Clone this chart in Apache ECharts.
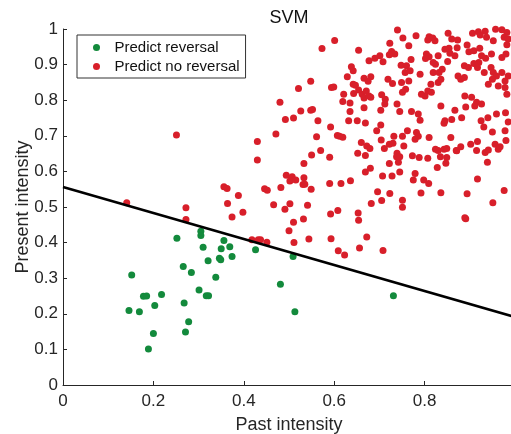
<!DOCTYPE html>
<html>
<head>
<meta charset="utf-8">
<script src="https://cdn.jsdelivr.net/npm/echarts@6/dist/echarts.min.js"></script>
<style>
  html, body { margin: 0; padding: 0; background: #fff; }
  #chart { width: 511px; height: 434px; }
</style>
</head>
<body>
<div id="chart"></div>
<script>
// Trials classified as reversal: [past intensity, present intensity]
const predictReversal = [
  [0.252,0.412],[0.305,0.432],[0.305,0.420],[0.310,0.387],[0.356,0.406],[0.350,0.383],
  [0.369,0.388],[0.374,0.361],[0.321,0.349],[0.346,0.356],[0.349,0.352],[0.266,0.333],
  [0.284,0.316],[0.338,0.303],[0.152,0.309],[0.178,0.249],[0.185,0.250],[0.218,0.254],
  [0.301,0.267],[0.317,0.251],[0.322,0.251],[0.426,0.380],[0.146,0.209],[0.169,0.206],
  [0.203,0.223],[0.268,0.230],[0.278,0.178],[0.271,0.149],[0.200,0.145],[0.189,0.101],
  [0.509,0.361],[0.481,0.283],[0.731,0.251],[0.513,0.206]
];

// Trials classified as no reversal
const predictNoReversal = [
  [0.141,0.512],[0.272,0.498],[0.272,0.465],[0.356,0.557],[0.363,0.552],[0.364,0.510],
  [0.388,0.532],[0.374,0.472],[0.398,0.485],[0.418,0.408],[0.432,0.408],[0.430,0.632],
  [0.251,0.702],[0.430,0.684],
  [0.521,0.833],[0.480,0.794],[0.526,0.770],[0.492,0.746],[0.510,0.750],[0.471,0.705],
  [0.533,0.622],[0.494,0.589],[0.507,0.585],[0.502,0.573],[0.515,0.576],[0.533,0.582],
  [0.531,0.563],[0.446,0.551],[0.452,0.547],[0.482,0.555],
  [0.550,0.646],[0.570,0.659],[0.590,0.640],[0.535,0.564],[0.549,0.550],[0.590,0.566],
  [0.615,0.566],[0.636,0.574],[0.652,0.651],[0.669,0.645],[0.669,0.598],[0.680,0.609],
  [0.707,0.587],[0.722,0.622],[0.728,0.587],[0.745,0.598],[0.738,0.641],[0.742,0.626],
  [0.739,0.651],[0.773,0.644],[0.788,0.639],[0.807,0.637],[0.779,0.594],[0.775,0.576],
  [0.798,0.576],[0.809,0.566],[0.830,0.659],[0.835,0.641],[0.849,0.639],[0.847,0.623],
  [0.828,0.611],[0.870,0.659],[0.915,0.659],[0.934,0.653],[0.939,0.626],[0.917,0.579],
  [0.963,0.662],
  [0.466,0.506],[0.491,0.494],[0.502,0.509],[0.541,0.505],[0.510,0.457],[0.532,0.466],
  [0.500,0.433],[0.511,0.400],[0.544,0.410],[0.592,0.480],[0.608,0.490],[0.593,0.411],
  [0.609,0.377],[0.623,0.365],[0.653,0.483],[0.654,0.463],[0.672,0.416],[0.656,0.385],
  [0.682,0.510],[0.705,0.518],[0.696,0.543],[0.723,0.538],[0.751,0.519],[0.751,0.499],
  [0.708,0.378],[0.792,0.539],[0.836,0.540],[0.894,0.537],[0.951,0.512],[0.976,0.546],
  [0.889,0.470],[0.891,0.467],[0.437,0.408],[0.451,0.401],
  [0.548,0.853],[0.548,0.772],[0.564,0.742],[0.592,0.725],[0.561,0.697],[0.573,0.945],
  [0.601,0.968],[0.594,0.836],[0.599,0.837],[0.612,0.699],[0.619,0.696],
  [0.654,0.940],[0.740,0.997],[0.752,0.975],[0.723,0.960],[0.727,0.937],[0.734,0.930],
  [0.722,0.928],[0.701,0.925],[0.690,0.918],[0.708,0.908],[0.677,0.911],[0.748,0.898],
  [0.638,0.894],[0.642,0.883],[0.629,0.866],[0.666,0.862],[0.681,0.866],[0.675,0.853],
  [0.719,0.859],[0.729,0.847],[0.757,0.878],[0.642,0.845],[0.647,0.842],[0.643,0.819],
  [0.654,0.829],[0.621,0.817],[0.619,0.796],[0.635,0.792],[0.662,0.817],[0.671,0.826],
  [0.666,0.806],[0.677,0.812],[0.681,0.808],[0.666,0.779],[0.705,0.815],[0.713,0.803],
  [0.712,0.789],[0.703,0.772],[0.739,0.789],[0.745,0.768],[0.749,0.850],[0.751,0.822],
  [0.552,0.774],[0.635,0.768],[0.632,0.742],[0.651,0.742],[0.669,0.736],
  [0.781,0.981],[0.765,0.953],[0.810,0.978],[0.807,0.969],[0.823,0.967],[0.818,0.975],
  [0.852,0.988],[0.860,0.972],[0.873,0.969],[0.906,0.988],[0.919,0.992],[0.934,0.994],
  [0.923,0.983],[0.957,0.999],[0.971,0.998],[0.982,0.990],[0.976,0.977],[0.937,0.977],
  [0.952,0.967],[0.982,0.956],[0.985,0.972],[0.894,0.955],[0.872,0.947],[0.854,0.946],
  [0.856,0.932],[0.867,0.925],[0.845,0.943],[0.804,0.930],[0.810,0.922],[0.830,0.925],
  [0.802,0.917],[0.770,0.914],[0.898,0.936],[0.909,0.939],[0.922,0.946],[0.926,0.925],
  [0.935,0.918],[0.948,0.930],[0.971,0.920],[0.980,0.930],[0.920,0.906],[0.909,0.903],
  [0.851,0.909],[0.824,0.901],[0.760,0.897],[0.768,0.883],[0.790,0.873],[0.819,0.906],
  [0.819,0.878],[0.832,0.878],[0.839,0.887],[0.888,0.897],[0.897,0.892],[0.874,0.868],
  [0.880,0.859],[0.888,0.864],[0.917,0.892],[0.932,0.878],[0.947,0.892],[0.952,0.878],
  [0.959,0.868],[0.971,0.878],[0.950,0.859],[0.978,0.854],[0.985,0.868],[0.941,0.845],
  [0.963,0.840],[0.978,0.836],[0.982,0.817],[0.889,0.812],[0.904,0.808],[0.915,0.794],
  [0.911,0.784],[0.926,0.789],[0.815,0.822],[0.807,0.826],[0.801,0.812],[0.793,0.817],
  [0.830,0.850],[0.836,0.859],[0.814,0.845],[0.765,0.854],[0.758,0.831],[0.771,0.768],
  [0.786,0.761],[0.836,0.784],[0.867,0.772],[0.891,0.781],[0.882,0.751],[0.845,0.742],
  [0.925,0.742],[0.940,0.751],[0.959,0.761],[0.979,0.765],
  [0.703,0.730],[0.694,0.714],[0.607,0.701],[0.660,0.681],[0.672,0.671],[0.679,0.664],
  [0.704,0.688],[0.711,0.664],[0.722,0.676],[0.730,0.679],[0.732,0.699],[0.751,0.699],
  [0.754,0.671],[0.745,0.641],
  [0.790,0.744],[0.843,0.735],[0.860,0.746],[0.931,0.725],[0.950,0.711],[0.978,0.714],
  [0.985,0.739],[0.762,0.714],[0.782,0.709],[0.786,0.699],[0.779,0.690],[0.810,0.695],
  [0.824,0.662],[0.843,0.662],[0.849,0.664],[0.858,0.695],[0.871,0.658],[0.880,0.669],
  [0.902,0.676],[0.917,0.684],[0.941,0.660],[0.956,0.676],[0.967,0.669],[0.980,0.687]
];

// SVM decision boundary endpoints
const boundaryLine = [[0, 0.556], [1, 0.191]];

const xTicks = { min: 0, max: 1, interval: 0.2 };
const yTicks = { min: 0, max: 1, interval: 0.1 };

const FONT = '"Liberation Sans", Arial, Helvetica, sans-serif';
const INK = '#262626';
const GREEN = '#138a3c';
const RED = '#d81f2a';

const chart = echarts.init(document.getElementById('chart'), null, { renderer: 'canvas' });

const axisCommon = {
  axisLine: { show: true, lineStyle: { color: INK, width: 1 } },
  axisTick: { show: true, inside: true, length: 4, lineStyle: { color: INK } },
  splitLine: { show: false },
  nameLocation: 'middle',
  nameMoveOverlap: false,
  nameTextStyle: { fontFamily: FONT, fontSize: 18, color: INK }
};

chart.setOption({
  animation: false,
  backgroundColor: '#fff',
  title: {
    text: 'SVM',
    left: 284, top: 4,
    textAlign: 'center',
    textStyle: { fontFamily: FONT, fontSize: 18, fontWeight: 'normal', color: '#111' }
  },
  legend: {
    orient: 'vertical',
    left: 77, top: 35,
    padding: [5, 6, 4, 16],
    itemGap: 4,
    itemWidth: 28, itemHeight: 7,
    icon: 'circle',
    borderColor: '#333', borderWidth: 1,
    backgroundColor: '#fff',
    textStyle: { fontFamily: FONT, fontSize: 15, color: '#111', padding: [0, 0, 0, -1] },
    data: ['Predict reversal', 'Predict no reversal']
  },
  grid: {
    left: 63, top: 29, width: 452, height: 356,
    containLabel: false, outerBoundsMode: 'none'
  },
  xAxis: Object.assign({}, axisCommon, {
    type: 'value',
    min: xTicks.min, max: xTicks.max, interval: xTicks.interval,
    name: 'Past intensity', nameGap: 31,
    axisLabel: { fontFamily: FONT, fontSize: 17, color: INK, margin: 8 }
  }),
  yAxis: Object.assign({}, axisCommon, {
    type: 'value',
    min: yTicks.min, max: yTicks.max, interval: yTicks.interval,
    name: 'Present intensity', nameGap: 31,
    axisLabel: { fontFamily: FONT, fontSize: 17, color: INK, margin: 5 }
  }),
  series: [
    {
      name: 'Predict reversal', type: 'scatter',
      data: predictReversal, symbolSize: 7,
      itemStyle: { color: GREEN, opacity: 1 }
    },
    {
      name: 'Predict no reversal', type: 'scatter',
      data: predictNoReversal, symbolSize: 7,
      itemStyle: { color: RED, opacity: 1 }
    },
    {
      name: 'Decision boundary', type: 'line',
      data: boundaryLine, symbol: 'none',
      lineStyle: { color: '#000', width: 2.5 },
      z: 5
    }
  ]
});
</script>
</body>
</html>
